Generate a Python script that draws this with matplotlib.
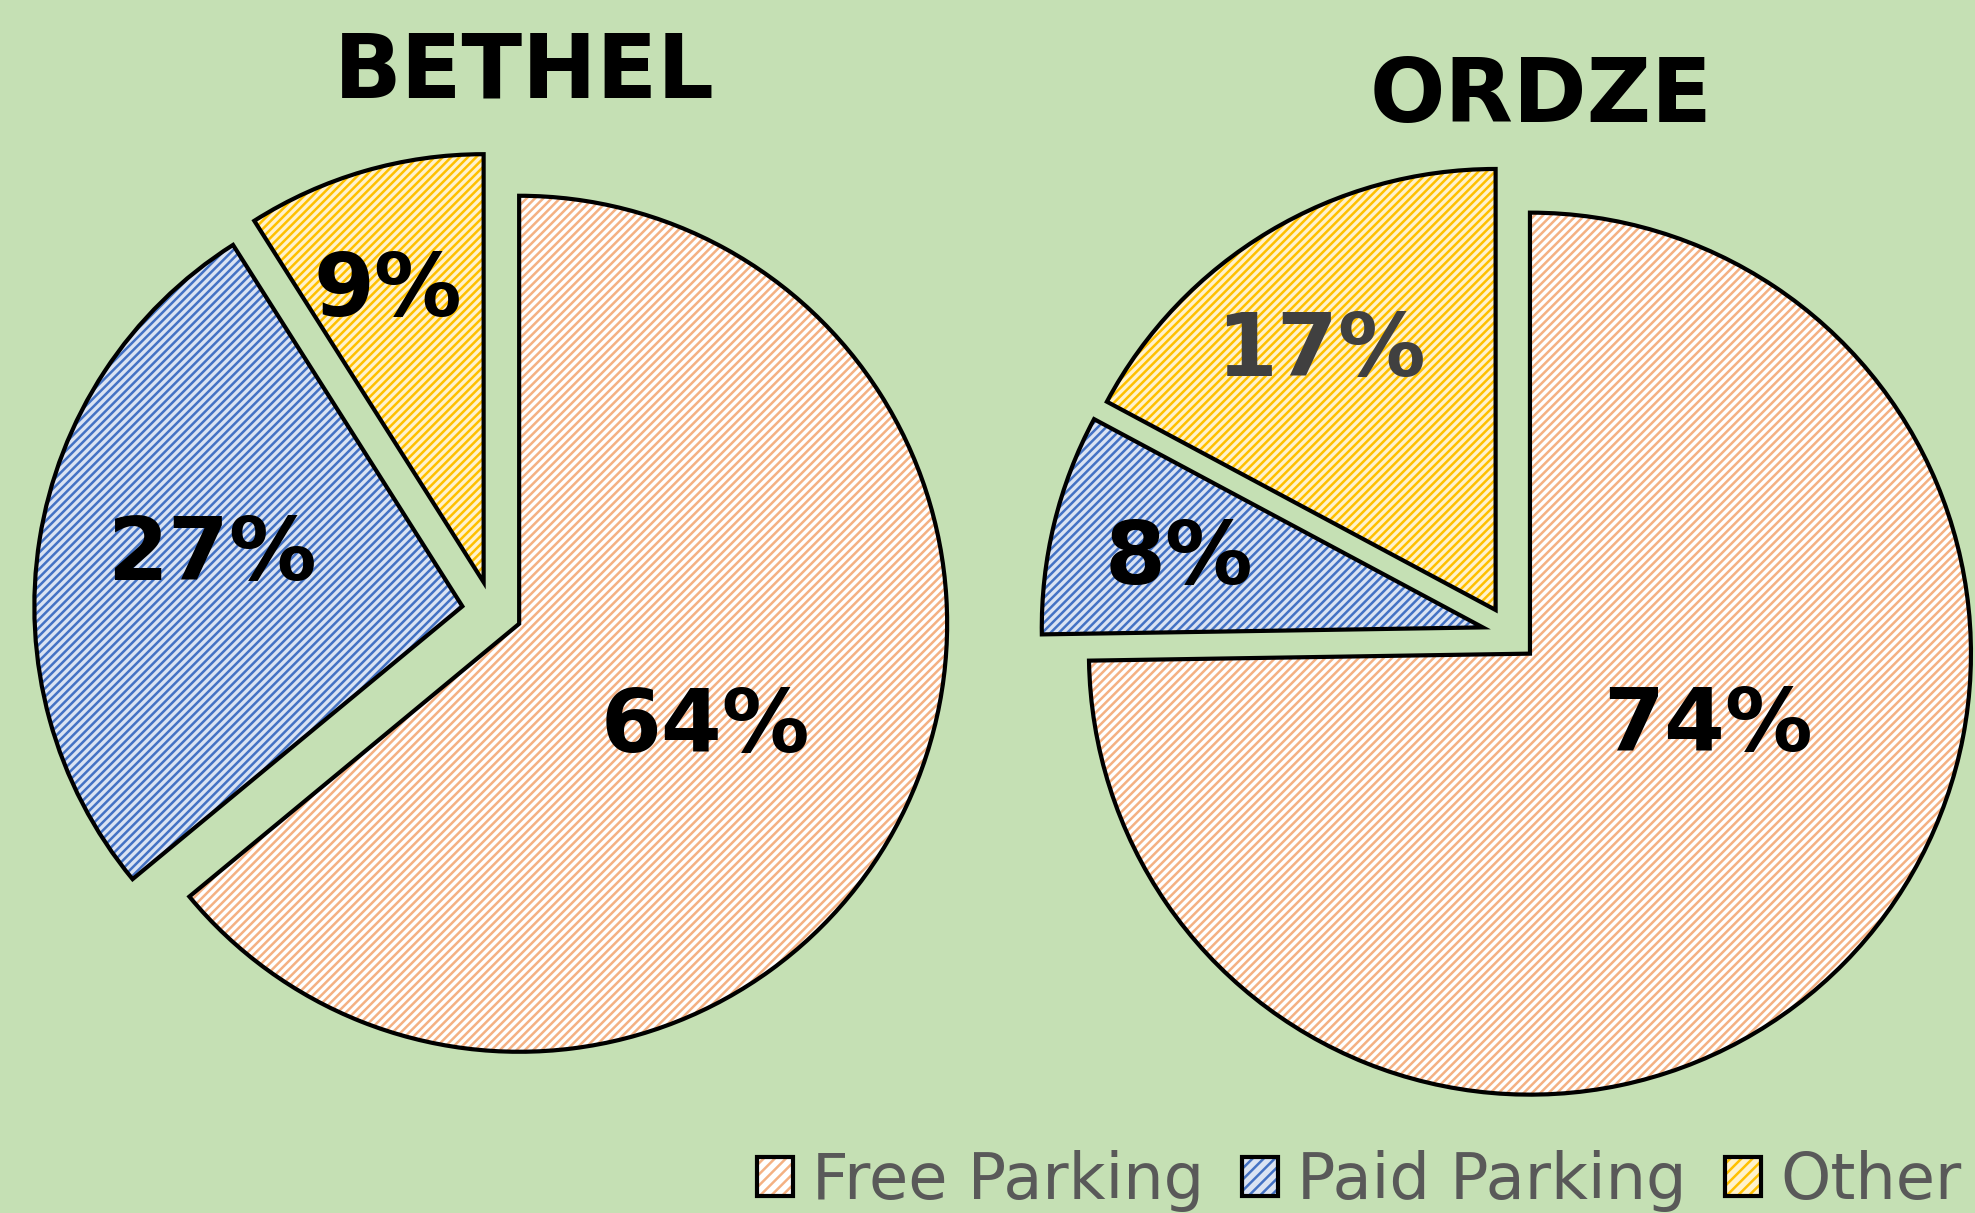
import numpy as np
import matplotlib.pyplot as plt
from matplotlib.patches import Wedge, Patch

# data
categories = ['Free Parking', 'Paid Parking', 'Other']
bethel = [64, 27, 9]
ordze = [74, 8, 17]
titles = ['BETHEL', 'ORDZE']

stripe_colors = ['#F4B183', '#4472C4', '#FFC000']
back_colors = ['#FFFFFF', '#DAE3F3', '#FFF2CC']
bg = '#C5E0B4'

W, H = 1975, 1213
plt.rcParams['hatch.linewidth'] = 1.8

fig = plt.figure(figsize=(W / 100, H / 100), dpi=100, facecolor=bg)
ax = fig.add_axes([0, 0, 1, 1])
ax.set_facecolor(bg)

# layout in pixel units (y up)
layout = [
    dict(center=(492, H - 611), radius=428, explode=30, title_xy=(524, H - 98),
         label_pos=[(0.49, -27.5), (0.60, 167), (0.73, 107.8)],
         label_colors=['black', 'black', 'black']),
    dict(center=(1510, H - 634), radius=441, explode=28, title_xy=(1541, H - 122),
         label_pos=[(0.43, -20.5), (0.71, 166.2), (0.72, 123.3)],
         label_colors=['black', 'black', '#404040']),
]

for values, title, lay in zip([bethel, ordze], titles, layout):
    wedges, _ = ax.pie(values, startangle=90, counterclock=False,
                       center=lay['center'], radius=lay['radius'],
                       explode=[lay['explode']] * len(values),
                       colors=back_colors, wedgeprops=dict(linewidth=0))
    for w, sc, v, (d, a), lc in zip(wedges, stripe_colors, values,
                                    lay['label_pos'], lay['label_colors']):
        w.set_edgecolor(sc)
        w.set_hatch('////')
        # black outline on top
        ax.add_patch(Wedge(w.center, w.r, w.theta1, w.theta2, facecolor='none',
                           edgecolor='black', linewidth=3, zorder=3))
        cx, cy = w.center
        r = lay['radius']
        x = cx + d * r * np.cos(np.radians(a))
        y = cy + d * r * np.sin(np.radians(a))
        ax.text(x, y - 31, f'{v}%', fontsize=63, fontweight='bold', color=lc,
                ha='center', va='baseline', zorder=4)
    ax.text(lay['title_xy'][0], lay['title_xy'][1], title, fontsize=64,
            fontweight='bold', color='black', ha='center', va='baseline')

ax.set_xlim(0, W)
ax.set_ylim(0, H)
ax.axis('off')

handles = [(Patch(facecolor=b, edgecolor=s, hatch='///', linewidth=0),
            Patch(facecolor='none', edgecolor='black', linewidth=3))
           for b, s in zip(back_colors, stripe_colors)]
fig.legend(handles, categories, loc='center right', bbox_to_anchor=(0.993, 0.026),
           ncol=3, frameon=False, fontsize=46, labelcolor='#595959',
           handlelength=0.56, handleheight=0.56, handletextpad=0.3,
           columnspacing=0.6, borderpad=0, borderaxespad=0)

fig.savefig('out.png', dpi=100, facecolor=bg)
